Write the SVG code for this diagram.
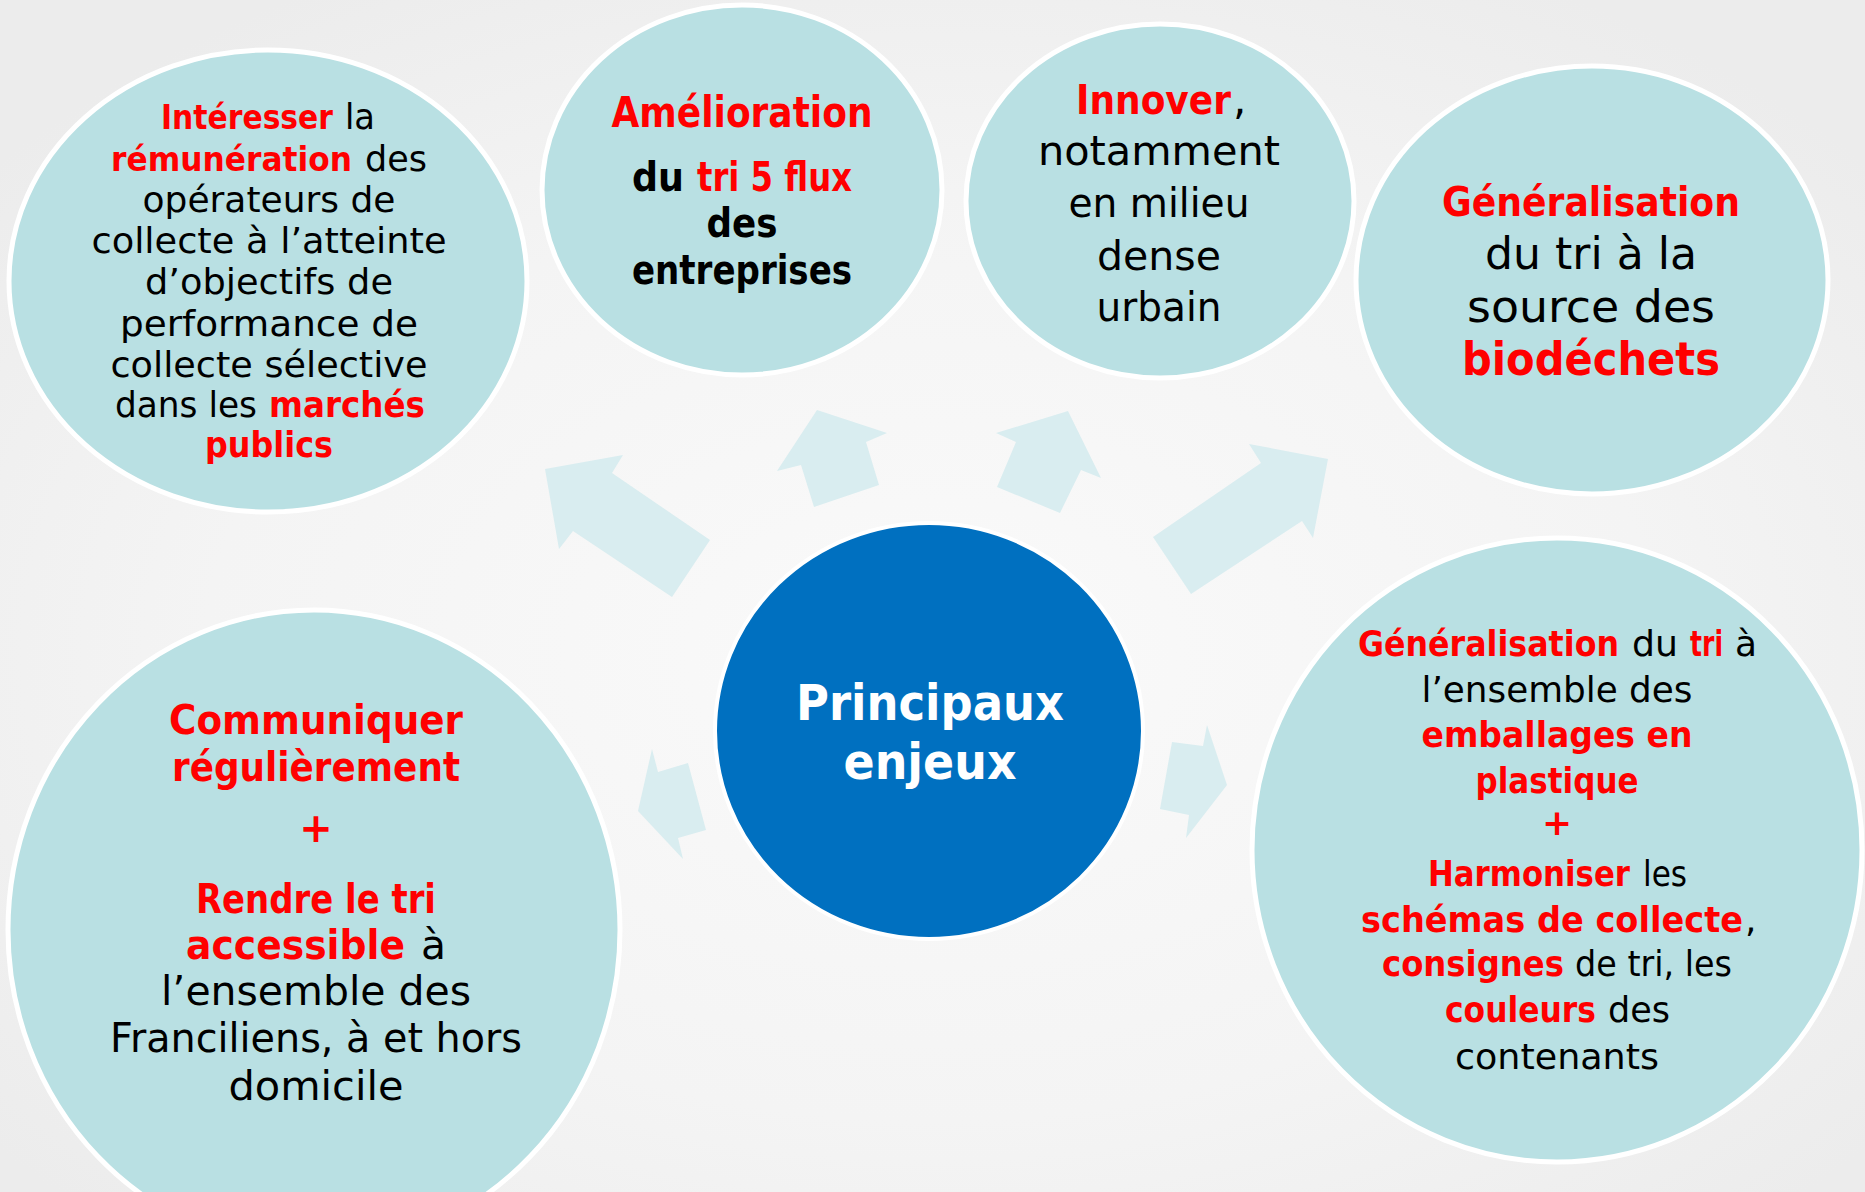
<svg xmlns="http://www.w3.org/2000/svg" width="1865" height="1192" viewBox="0 0 1865 1192">
<defs>
<radialGradient id="bg" cx="0.5" cy="0.55" r="0.65">
<stop offset="0" stop-color="#FAFAFA"/>
<stop offset="0.6" stop-color="#F4F4F4"/>
<stop offset="1" stop-color="#ECECEC"/>
</radialGradient>
</defs>
<style>
.bub{fill:#B9E0E3;stroke:#FFFFFF;stroke-width:5}
.core{fill:#0070C0;stroke:#FFFFFF;stroke-width:4}
.arr{fill:#D9EDF0}
text{font-family:"DejaVu Sans","Liberation Sans",sans-serif;text-anchor:middle;fill:#000000}
text.s{text-anchor:start}
.r{fill:#FF0000;font-weight:bold}
.b{font-weight:bold}
.w{fill:#FFFFFF;font-weight:bold}
</style>
<rect width="1865" height="1192" fill="url(#bg)"/>
<g id="connectors">
<polygon class="arr" points="545,469 623,455 612,473 710,540 672,597 573,531 559,549"/>
<polygon class="arr" points="817,410 887,433 866,442 879,485 814,507 801,465 777,471"/>
<polygon class="arr" points="1068,411 1101,478 1081,470 1060,513 997,487 1016,442 996,433"/>
<polygon class="arr" points="1328,459 1313,538 1302,521 1191,594 1153,537 1261,463 1249,444"/>
<polygon class="arr" points="638,811 652,749 658,772 688,763 706,830 678,838 683,859"/>
<polygon class="arr" points="1227,785 1207,725 1203,746 1172,742 1160,809 1189,815 1186,838"/>
</g>
<g id="node-center">
<ellipse class="core" cx="929" cy="731" rx="214" ry="208"/>
<text x="930" y="720" font-size="50" class="w" textLength="268" lengthAdjust="spacingAndGlyphs">Principaux</text>
<text x="930" y="779" font-size="50" class="w" textLength="173" lengthAdjust="spacingAndGlyphs">enjeux</text>
</g>
<g id="node-remuneration">
<ellipse class="bub" cx="268" cy="281" rx="259" ry="231"/>
<g font-size="35">
<text class="s r" transform="translate(161,129) scale(1,1.15)" font-size="29.5" textLength="172" lengthAdjust="spacingAndGlyphs">Intéresser</text>
<text x="345" y="129" class="s" textLength="30" lengthAdjust="spacingAndGlyphs">la</text>
<text class="s r" transform="translate(111,171) scale(1,1.1)" font-size="31" textLength="241" lengthAdjust="spacingAndGlyphs">rémunération</text>
<text x="365" y="171" class="s" textLength="62" lengthAdjust="spacingAndGlyphs">des</text>
<text x="269" y="212" textLength="253" lengthAdjust="spacingAndGlyphs">opérateurs de</text>
<text x="269" y="253" textLength="355" lengthAdjust="spacingAndGlyphs">collecte à l’atteinte</text>
<text x="269" y="294" textLength="248" lengthAdjust="spacingAndGlyphs">d’objectifs de</text>
<text x="269" y="336" textLength="298" lengthAdjust="spacingAndGlyphs">performance de</text>
<text x="269" y="377" textLength="317" lengthAdjust="spacingAndGlyphs">collecte sélective</text>
<text x="115" y="417" class="s" textLength="142" lengthAdjust="spacingAndGlyphs">dans les</text>
<text x="269" y="417" class="s r" textLength="156" lengthAdjust="spacingAndGlyphs">marchés</text>
<text x="269" y="457" class="r" textLength="128" lengthAdjust="spacingAndGlyphs">publics</text>
</g>
</g>
<g id="node-amelioration">
<ellipse class="bub" cx="742" cy="190" rx="200" ry="185"/>
<text x="742" y="127" font-size="42" class="r" textLength="261" lengthAdjust="spacingAndGlyphs">Amélioration</text>
<text x="632" y="191" font-size="40" class="s b" textLength="52" lengthAdjust="spacingAndGlyphs">du</text>
<text x="697" y="191" font-size="40" class="s r" textLength="155" lengthAdjust="spacingAndGlyphs">tri 5 flux</text>
<text x="742" y="237" font-size="40" class="b" textLength="71" lengthAdjust="spacingAndGlyphs">des</text>
<text x="742" y="284" font-size="40" class="b" textLength="220" lengthAdjust="spacingAndGlyphs">entreprises</text>
</g>
<g id="node-innover">
<ellipse class="bub" cx="1160" cy="201" rx="194" ry="177"/>
<text class="s r" transform="translate(1076,114) scale(1,1.16)" font-size="35.5" textLength="155" lengthAdjust="spacingAndGlyphs">Innover</text>
<text x="1233" y="114" font-size="42" class="s">,</text>
<g font-size="41">
<text x="1159" y="165" textLength="242" lengthAdjust="spacingAndGlyphs">notamment</text>
<text x="1159" y="217" textLength="181" lengthAdjust="spacingAndGlyphs">en milieu</text>
<text x="1159" y="270" textLength="124" lengthAdjust="spacingAndGlyphs">dense</text>
<text x="1159" y="321" textLength="125" lengthAdjust="spacingAndGlyphs">urbain</text>
</g>
</g>
<g id="node-biodechets">
<ellipse class="bub" cx="1592" cy="280" rx="236" ry="214"/>
<text x="1591" y="216" font-size="40" class="r" textLength="298" lengthAdjust="spacingAndGlyphs">Généralisation</text>
<text x="1591" y="269" font-size="44" textLength="212" lengthAdjust="spacingAndGlyphs">du tri à la</text>
<text x="1591" y="322" font-size="44" textLength="248" lengthAdjust="spacingAndGlyphs">source des</text>
<text x="1591" y="375" font-size="46" class="r" textLength="258" lengthAdjust="spacingAndGlyphs">biodéchets</text>
</g>
<g id="node-communiquer">
<ellipse class="bub" cx="314" cy="930" rx="306" ry="320"/>
<text x="316" y="734" font-size="40" class="r" textLength="294" lengthAdjust="spacingAndGlyphs">Communiquer</text>
<text x="316" y="781" font-size="40" class="r" textLength="288" lengthAdjust="spacingAndGlyphs">régulièrement</text>
<text x="316" y="842" font-size="40" class="r">+</text>
<text x="316" y="913" font-size="40" class="r" textLength="240" lengthAdjust="spacingAndGlyphs">Rendre le tri</text>
<text class="s r" transform="translate(186,959) scale(1,1.07)" font-size="37.5" textLength="219" lengthAdjust="spacingAndGlyphs">accessible</text>
<text x="421" y="959" font-size="40" class="s" textLength="25" lengthAdjust="spacingAndGlyphs">à</text>
<text x="316" y="1005" font-size="40" textLength="310" lengthAdjust="spacingAndGlyphs">l’ensemble des</text>
<text x="316" y="1052" font-size="40" textLength="412" lengthAdjust="spacingAndGlyphs">Franciliens, à et hors</text>
<text x="316" y="1100" font-size="40" textLength="175" lengthAdjust="spacingAndGlyphs">domicile</text>
</g>
<g id="node-emballages">
<ellipse class="bub" cx="1557" cy="850" rx="305" ry="312"/>
<g font-size="36">
<text class="s r" transform="translate(1358,656) scale(1,1.14)" font-size="31.5" textLength="261" lengthAdjust="spacingAndGlyphs">Généralisation</text>
<text x="1632" y="656" class="s" textLength="46" lengthAdjust="spacingAndGlyphs">du</text>
<text class="s r" transform="translate(1690,656) scale(1,1.29)" font-size="28" textLength="33" lengthAdjust="spacingAndGlyphs">tri</text>
<text x="1735" y="656" class="s" textLength="22" lengthAdjust="spacingAndGlyphs">à</text>
<text x="1557" y="702" textLength="271" lengthAdjust="spacingAndGlyphs">l’ensemble des</text>
<text x="1557" y="747" class="r" textLength="271" lengthAdjust="spacingAndGlyphs">emballages en</text>
<text x="1557" y="793" class="r" textLength="163" lengthAdjust="spacingAndGlyphs">plastique</text>
<text x="1557" y="835" class="r">+</text>
<text class="s r" transform="translate(1428,886) scale(1,1.18)" font-size="30.5" textLength="202" lengthAdjust="spacingAndGlyphs">Harmoniser</text>
<text x="1643" y="886" class="s" textLength="44" lengthAdjust="spacingAndGlyphs">les</text>
<text class="s r" transform="translate(1361,932) scale(1,1.075)" font-size="33.5" textLength="382" lengthAdjust="spacingAndGlyphs">schémas de collecte</text>
<text x="1745" y="932" class="s">,</text>
<text class="s r" transform="translate(1382,976) scale(1,1.125)" font-size="32" textLength="182" lengthAdjust="spacingAndGlyphs">consignes</text>
<text x="1575" y="976" class="s" textLength="157" lengthAdjust="spacingAndGlyphs">de tri, les</text>
<text class="s r" transform="translate(1445,1022) scale(1,1.16)" font-size="31" textLength="151" lengthAdjust="spacingAndGlyphs">couleurs</text>
<text x="1608" y="1022" class="s" textLength="62" lengthAdjust="spacingAndGlyphs">des</text>
<text x="1557" y="1069" textLength="204" lengthAdjust="spacingAndGlyphs">contenants</text>
</g>
</g>
</svg>
